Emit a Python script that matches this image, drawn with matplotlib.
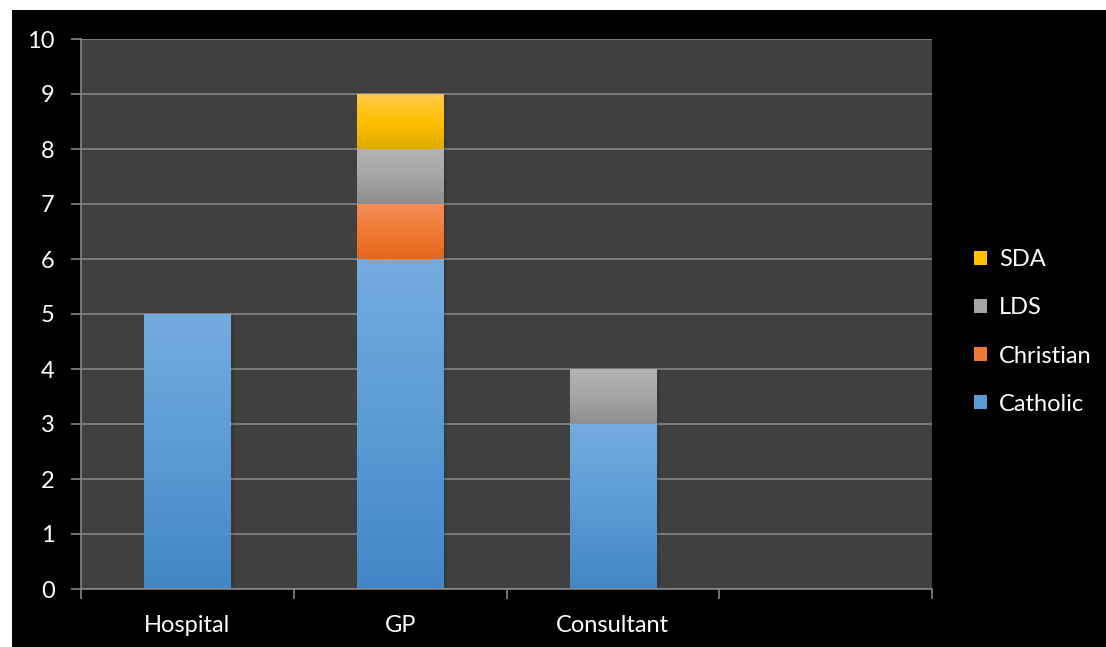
import matplotlib.pyplot as plt
import numpy as np
from matplotlib.patches import Patch, Rectangle
from matplotlib.colors import LinearSegmentedColormap

plt.rcParams['font.family'] = ['Lato', 'DejaVu Sans']

categories = ['Hospital', 'GP', 'Consultant', '']
series = ['Catholic', 'Christian', 'LDS', 'SDA']
catholic = [5, 6, 3, 0]
christian = [0, 1, 0, 0]
lds = [0, 1, 1, 0]
sda = [0, 1, 0, 0]
values = [catholic, christian, lds, sda]

# top, middle, bottom shades for each series
shades = {
    'Catholic': ['#74abe0', '#5b9bd5', '#4186c6'],
    'Christian': ['#f38d58', '#f07a33', '#e2661a'],
    'LDS': ['#b3b3b3', '#a5a5a5', '#8e8e8e'],
    'SDA': ['#ffc94a', '#ffc000', '#dfaa00'],
}

fs = 17

fig = plt.figure(figsize=(11.06, 6.47), dpi=100, facecolor='white')
fig.patches.append(Rectangle((12 / 1106, 0), 1 - 12 / 1106, 1 - 10 / 647,
                             transform=fig.transFigure, facecolor='black',
                             edgecolor='none', zorder=-10))

ax = fig.add_axes([81 / 1106, 1 - 589 / 647, (932 - 81) / 1106, (589 - 39) / 647])
ax.set_facecolor('#404040')

x = np.arange(len(categories))
width = 0.405
bottom = np.zeros(len(categories))
for name, vals in zip(series, values):
    cmap = LinearSegmentedColormap.from_list(name, shades[name][::-1])
    grad = np.linspace(0, 1, 256).reshape(-1, 1)
    bars = ax.bar(x, vals, width, bottom=bottom, color='none', zorder=3)
    for bar, v in zip(bars, vals):
        if v <= 0:
            continue
        x0, y0 = bar.get_x(), bar.get_y()
        # faint shadow on the right side
        ax.add_patch(Rectangle((x0 + width, y0), 0.02, v, facecolor='black',
                               alpha=0.1, edgecolor='none', zorder=2.5))
        ax.imshow(grad, cmap=cmap, origin='lower', aspect='auto',
                  extent=(x0, x0 + width, y0, y0 + v), zorder=3)
    bottom += np.array(vals)

ax.set_xlim(-0.5, len(categories) - 0.5)
ax.set_ylim(0, 10)
ax.set_yticks(range(0, 11))
ax.set_xticks(x)
ax.set_xticklabels(categories)
ax.set_xticks(np.arange(-0.5, len(categories)), minor=True)
ax.tick_params(axis='x', which='major', length=0, pad=19, labelsize=fs,
               colors='white')
ax.tick_params(axis='x', which='minor', length=7, width=1.2, color='#868686',
               direction='out')
ax.tick_params(axis='y', length=7, width=1.2, color='#868686', pad=12,
               labelsize=fs, labelcolor='white')
ax.grid(axis='y', color='#868686', linewidth=1.2, zorder=1)
ax.set_axisbelow(True)
for side in ['top', 'right']:
    ax.spines[side].set_visible(False)
for side in ['left', 'bottom']:
    ax.spines[side].set_color('#868686')
    ax.spines[side].set_linewidth(1.2)
    ax.spines[side].set_zorder(4)

handles = [Patch(facecolor=shades[s][1], edgecolor='none', label=s)
           for s in series][::-1]
leg = fig.legend(handles=handles, loc='center left',
                 bbox_to_anchor=(953 / 1106, 1 - 332 / 647), frameon=False,
                 fontsize=fs, labelcolor='white', handlelength=0.55,
                 handleheight=0.55, handletextpad=0.5, labelspacing=1.15)

fig.savefig('out.png', dpi=100, facecolor=fig.get_facecolor())
